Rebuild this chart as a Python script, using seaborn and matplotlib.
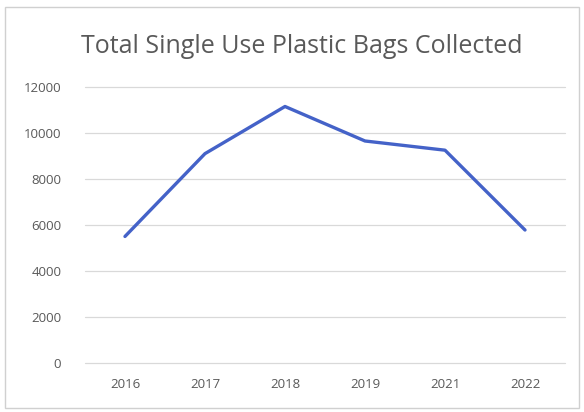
import matplotlib
matplotlib.use("Agg")
import matplotlib.pyplot as plt
import seaborn as sns
import pandas as pd
from matplotlib.patches import Rectangle

years = ["2016", "2017", "2018", "2019", "2021", "2022"]
bags_collected = [5500, 9100, 11150, 9650, 9250, 5780]
y_ticks = [0, 2000, 4000, 6000, 8000, 10000, 12000]

sns.set_style("white")
plt.rcParams["font.family"] = ["Open Sans", "DejaVu Sans"]

df = pd.DataFrame({"Year": years, "Bags": bags_collected})

fig = plt.figure(figsize=(5.84, 4.12), dpi=100)
ax = fig.add_axes([0.1455, 0.119, 0.822, 0.670])

sns.lineplot(data=df, x="Year", y="Bags", ax=ax, color="#4462C8",
             linewidth=2.4, sort=False)

ax.set_xlim(-0.5, len(years) - 0.5)
ax.set_ylim(0, 12000)
ax.set_yticks(y_ticks)
ax.set_yticklabels([str(v) for v in y_ticks])
ax.yaxis.grid(True, color="#d9d9d9", linewidth=0.9)
for gl in ax.yaxis.get_gridlines():
    gl.set_clip_on(False)
ax.xaxis.grid(False)
for s in ax.spines.values():
    s.set_visible(False)
ax.tick_params(axis="both", length=0, labelsize=9.5, labelcolor="#595959")
ax.tick_params(axis="y", pad=17)
ax.tick_params(axis="x", pad=11)
ax.set_xlabel("")
ax.set_ylabel("")

fig.text(0.516, 0.888, "Total Single Use Plastic Bags Collected",
         ha="center", va="center", fontsize=18, color="#595959")

# chart frame
fig.patches.append(Rectangle((0.009, 0.01), 0.982, 0.972, transform=fig.transFigure,
                             fill=False, edgecolor="#d0d0d0", linewidth=1.0))

fig.savefig("out.png", dpi=100, facecolor="white")
